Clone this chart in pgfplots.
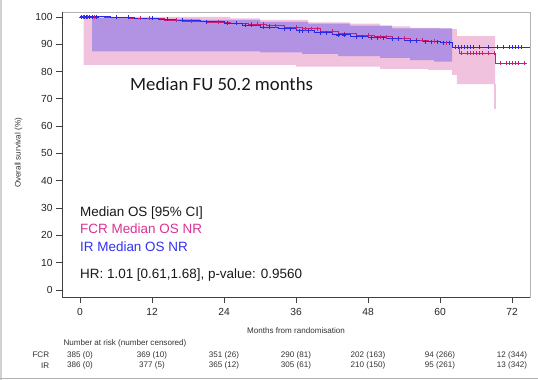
\documentclass[border=0pt]{standalone}
\usepackage{pgfplots}
\pgfplotsset{compat=1.18}
\usepackage{fontspec}
\setmainfont{Liberation Sans}
\newfontfamily\calib{Carlito}
\definecolor{fcrline}{RGB}{200,30,120}
\definecolor{irline}{RGB}{40,40,230}
\definecolor{pinkband}{RGB}{240,194,222}
\definecolor{purpleband}{RGB}{178,146,226}
\definecolor{fcrtext}{RGB}{220,50,150}
\definecolor{irtext}{RGB}{50,50,240}
\begin{document}
\begin{tikzpicture}
\path[use as bounding box] (0,0) rectangle (538bp,380bp);
\fill[white] (0,0) rectangle (538bp,380bp);
\draw[gray!35, line width=1.5bp] (0.75bp,0) -- (0.75bp,380bp);
\draw[gray!60, line width=1.5bp] (0,1.5bp) -- (538bp,1.5bp);
\begin{axis}[
  at={(62bp,83bp)}, anchor=south west, scale only axis,
  width=468bp, height=285bp,
  xmin=-3, xmax=75, ymin=-2.6, ymax=101.8,
  xtick={0,12,...,72}, ytick={0,10,...,100},
  tick align=outside, tick pos=left, major tick length=6bp,
  axis line style={draw=gray!60},
  tick style={draw=black!75, line width=0.8bp},
  ticklabel style={font=\fontsize{10.3}{12}\selectfont, text=black!85},
  xticklabel style={yshift=-2bp},
  /pgf/number format/assume math mode=true,
  clip=false,
]
% FCR CI band
\addplot[fill=pinkband, draw=none] coordinates {
 (0.6,100) (25,100) (25,99.5) (30,99.5) (30,98.9) (38,98.9) (38,98) (45,98) (45,97.5) (50,97.5) (50,96.5) (55,96.5) (55,96) (60,96) (60,95.5) (62.8,95.5) (62.8,93) (69.2,93)
 (69.2,75.4) (62.8,75.4) (62.8,78.8) (62,78.8) (62,80.6) (58,80.6) (58,81) (50,81) (50,81.8) (36,81.8) (36,82.4) (0.6,82.4)} -- cycle;
\addplot[draw=pinkband, line width=1.5bp] coordinates {(69.2,75.4) (69.2,66.2)};
% IR CI band
\addplot[fill=purpleband, draw=none] coordinates {
 (2,99.6) (10,99.6) (10,99.3) (20,99.3) (20,98.9) (30,98.9) (30,98.2) (38,98.2) (38,97.5) (45,97.5) (45,96.8) (52,96.8) (52,95.8) (62,95.8)
 (62,83.6) (59,83.6) (59,84.2) (55,84.2) (55,85) (50,85) (50,85.6) (43,85.6) (43,86.5) (37,86.5) (37,87) (30,87) (30,87.4) (2,87.4)} -- cycle;
% FCR curve
\addplot[const plot, fcrline, line width=0.9bp] coordinates {
 (0,100) (4,99.8) (8,99.6) (12,99.3) (14,98.8) (17,98.5) (21,98.1) (25,97.7) (28,97.3) (31,96.8) (34,96.3) (37,95.7) (40,94.8) (43,93.9) (46,93.2) (49,92.7) (52,92.1) (55,91.4) (58,91.0) (60,90.5) (62,88.9) (63.2,86.7) (69.2,83.0) (74.5,83.0)};
% IR curve
\addplot[const plot, irline, line width=0.9bp] coordinates {
 (0,100) (5,99.8) (9,99.6) (13,99.2) (16,98.7) (20,98.2) (24,97.6) (27,97.0) (30,96.3) (33,95.7) (36,94.9) (39,94.2) (42,93.4) (45,92.8) (48,92.4) (51,92.0) (54,91.3) (57,90.9) (60,90.6) (62,88.9) (75,88.9)};
% FCR censor marks
\addplot[only marks, mark=+, mark size=2bp, fcrline, line width=0.7bp] coordinates {
 (0.2,100) (0.5,100) (0.8,100) (1.2,100) (1.6,100) (2.4,100) (10,99.6) (11.5,99.6) (16,98.8) (18.5,98.5) (23,98.1) (28.5,97.3) (29.5,97.3) (30.5,97.3) (31.5,96.8) (32.5,96.8) (36,96.3) (37.5,95.7) (38.5,95.7) (39.5,95.7) (42,94.8) (44,93.9) (48,93.2) (50,92.7) (51,92.7) (53,92.1) (54,92.1) (56,91.4) (57,91.4) (59,91.0) (61,90.5) (63.5,86.7) (64.5,86.7) (65,86.7) (65.5,86.7) (66,86.7) (66.5,86.7) (67,86.7) (68,86.7) (69,86.7) (70,83) (71,83) (71.5,83) (72,83) (72.5,83) (73,83) (74,83)};
% IR censor marks
\addplot[only marks, mark=+, mark size=2bp, irline, line width=0.7bp] coordinates {
 (0.3,100) (0.7,100) (1,100) (1.5,100) (2,100) (2.8,100) (6,99.8) (8,99.8) (12,99.6) (14.5,99.2) (17,98.7) (21,98.2) (24.5,97.6) (26,97.6) (27.5,97.0) (28.5,97.0) (30.5,96.3) (31.5,96.3) (34,95.7) (35,95.7) (36.5,94.9) (37,94.9) (38,94.9) (40,94.2) (41,94.2) (43,93.4) (44,93.4) (46,92.8) (47,92.8) (48.5,92.4) (49.5,92.4) (50.5,92.4) (52,92.0) (53,92.0) (55,91.3) (56,91.3) (57.5,90.9) (58.5,90.9) (59.5,90.9) (60.5,90.6) (61.5,90.6) (62.5,88.9) (63,88.9) (63.5,88.9) (64,88.9) (64.5,88.9) (65,88.9) (65.5,88.9) (66.5,88.9) (68,88.9) (69.5,88.9) (70.5,88.9) (71.5,88.9) (72,88.9) (72.5,88.9) (73,88.9) (73.5,88.9)};
\end{axis}
% darker left and bottom axis lines
\draw[black!75, line width=0.8bp] (62bp,368bp) -- (62bp,83bp) -- (530bp,83bp);
% texts
\node[anchor=base west, inner sep=0, font=\calib\fontsize{18.8}{22}\selectfont, text=black!90] at (130bp,289.3bp) {Median FU 50.2 months};
\begin{scope}[every node/.style={anchor=base west, inner sep=0, font=\fontsize{13.5}{16}\selectfont}]
\node[text=black!90] at (80bp,163.3bp) {Median OS [95\% CI]};
\node[text=fcrtext] at (80bp,146.7bp) {FCR Median OS NR};
\node[text=irtext] at (80bp,128.3bp) {IR Median OS NR};
\node[text=black!90] at (80bp,101.7bp) {HR: 1.01 [0.61,1.68], p-value: 0.9560};
\end{scope}
\begin{scope}[every node/.style={inner sep=0, font=\fontsize{8.1}{9.5}\selectfont, text=black!80}]
\node[rotate=90] at (18.5bp,227bp) {Overall survival (\%)};
\node at (296bp,49bp) {Months from randomisation};
\node[anchor=west] at (63.3bp,36.7bp) {Number at risk (number censored)};
\node[anchor=east] at (49.3bp,25bp) {FCR};
\node[anchor=east] at (49.3bp,14.3bp) {IR};
\node at (80bp,25bp) {385 (0)};
\node at (152bp,25bp) {369 (10)};
\node at (224bp,25bp) {351 (26)};
\node at (296bp,25bp) {290 (81)};
\node at (368bp,25bp) {202 (163)};
\node at (440bp,25bp) {94 (266)};
\node at (512bp,25bp) {12 (344)};
\node at (80bp,14.3bp) {386 (0)};
\node at (152bp,14.3bp) {377 (5)};
\node at (224bp,14.3bp) {365 (12)};
\node at (296bp,14.3bp) {305 (61)};
\node at (368bp,14.3bp) {210 (150)};
\node at (440bp,14.3bp) {95 (261)};
\node at (512bp,14.3bp) {13 (342)};
\end{scope}
\end{tikzpicture}
\end{document}
